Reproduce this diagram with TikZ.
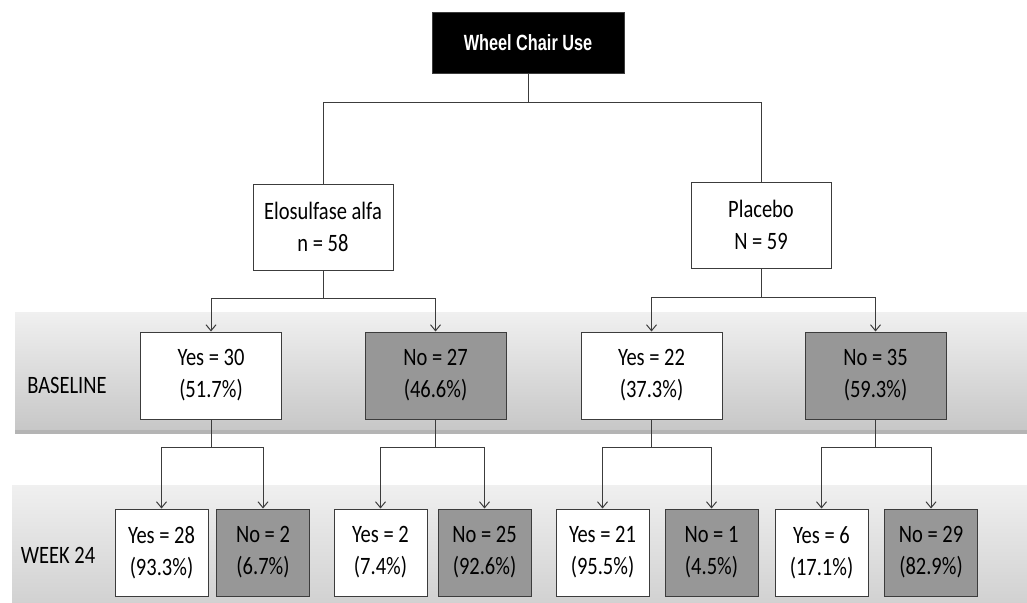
\documentclass[tikz,border=0pt]{standalone}
\usepackage{fontspec}
\setmainfont{Carlito}[FakeStretch=0.82]
\newfontfamily\rootfont{Liberation Sans}[FakeStretch=0.74]
\usetikzlibrary{arrows.meta}
\definecolor{color_box_gray}{HTML}{979797}
\definecolor{color_line}{HTML}{3c3c3c}
\definecolor{color_band_top}{HTML}{F0F0F0}
\definecolor{color_band_bottom}{HTML}{C6C6C6}
\definecolor{color_band_shadow}{HTML}{B4B4B4}

\begin{document}
\begin{tikzpicture}[x=1pt,y=-1pt,
		box/.style={draw=color_line,line width=1pt,inner sep=0,align=center,
			font=\fontsize{25}{32}\selectfont},
		rootbox/.style={box,fill=black,text=white,minimum width=192,minimum height=61,
			font=\rootfont\fontsize{22}{26}\selectfont\bfseries},
		groupbox/.style={box,fill=white,minimum width=140,minimum height=86},
		yesbase/.style={box,fill=white,minimum width=141,minimum height=87},
		nobase/.style={yesbase,fill=color_box_gray},
		yesweek/.style={box,fill=white,minimum width=93,minimum height=87},
		noweek/.style={yesweek,fill=color_box_gray},
		rowlabel/.style={anchor=base,inner sep=0,font=\fontsize{25}{30}\selectfont},
		tree/.style={draw=color_line,line width=1pt},
		arr/.style={tree,-{Straight Barb[length=6pt,width=10pt]}}
	]
	\useasboundingbox (0,0) rectangle (1027,602);

	% Bands
	\shade[top color=color_band_top,bottom color=color_band_bottom]
		(15,312) rectangle (1027,433);
	\fill[color_band_shadow] (15,430) rectangle (1027,434);
	\shade[top color=color_band_top,bottom color=color_band_bottom!80]
		(12,485) rectangle (1027,602);

	% Row labels
	\node[rowlabel] (lblbase) at (67,393) {BASELINE};
	\node[rowlabel] (lblweek) at (58,563) {WEEK 24};

	% Root and groups
	\node[rootbox] (root) at (528,43) {Wheel Chair Use};
	\node[groupbox] (elo) at (323,227) {Elosulfase alfa\\n = 58};
	\node[groupbox] (plac) at (761,225) {Placebo\\N = 59};

	% Baseline
	\node[yesbase] (b1) at (211,375.5) {Yes = 30\\(51.7\%)};
	\node[nobase] (b2) at (435.5,375.5) {No = 27\\(46.6\%)};
	\node[yesbase] (b3) at (651.5,375.5) {Yes = 22\\(37.3\%)};
	\node[nobase] (b4) at (875.5,375.5) {No = 35\\(59.3\%)};

	% Week 24
	\node[yesweek] (w1) at (161.5,552.5) {Yes = 28\\(93.3\%)};
	\node[noweek] (w2) at (263,552.5) {No = 2\\(6.7\%)};
	\node[yesweek] (w3) at (380.5,552.5) {Yes = 2\\(7.4\%)};
	\node[noweek] (w4) at (484.5,552.5) {No = 25\\(92.6\%)};
	\node[yesweek] (w5) at (602.5,552.5) {Yes = 21\\(95.5\%)};
	\node[noweek] (w6) at (711.5,552.5) {No = 1\\(4.5\%)};
	\node[yesweek] (w7) at (821.5,552.5) {Yes = 6\\(17.1\%)};
	\node[noweek] (w8) at (931,552.5) {No = 29\\(82.9\%)};

	% Connectors
	\draw[tree] (root.south) -- ++(0,28) -| (elo.north);
	\draw[tree] (root.south) -- ++(0,28) -| (plac.north);
	\draw[arr] (elo.south) -- ++(0,28) -| (b1.north);
	\draw[arr] (elo.south) -- ++(0,28) -| (b2.north);
	\draw[arr] (plac.south) -- ++(0,29) -| (b3.north);
	\draw[arr] (plac.south) -- ++(0,29) -| (b4.north);
	\draw[arr] (b1.south) -- ++(0,28) -| (w1.north);
	\draw[arr] (b1.south) -- ++(0,28) -| (w2.north);
	\draw[arr] (b2.south) -- ++(0,28) -| (w3.north);
	\draw[arr] (b2.south) -- ++(0,28) -| (w4.north);
	\draw[arr] (b3.south) -- ++(0,28) -| (w5.north);
	\draw[arr] (b3.south) -- ++(0,28) -| (w6.north);
	\draw[arr] (b4.south) -- ++(0,28) -| (w7.north);
	\draw[arr] (b4.south) -- ++(0,28) -| (w8.north);
\end{tikzpicture}
\end{document}
